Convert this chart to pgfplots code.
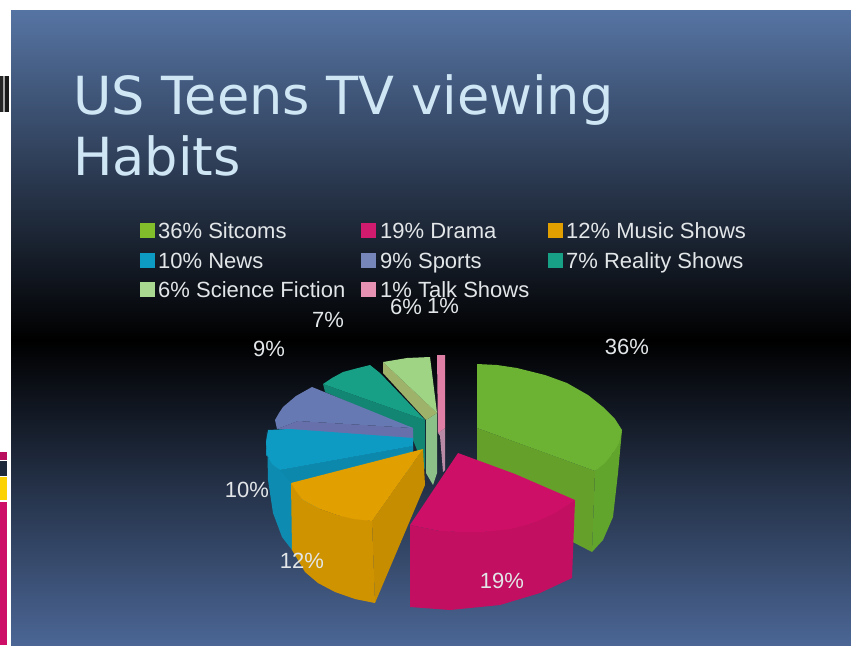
\documentclass[border=0pt]{standalone}
\usepackage{pgfplots}
\pgfplotsset{compat=1.18}
\usepackage{fontspec}
\setmainfont{Liberation Sans}
\newfontfamily\titlefont{DejaVu Sans}

\definecolor{bgtop}{HTML}{5674A3}
\definecolor{bgbot}{HTML}{4B6695}
\definecolor{titlecol}{HTML}{CFE6F5}
\definecolor{labelcol}{HTML}{E2E6E8}
\definecolor{sitcomTop}{HTML}{6CB233}
\definecolor{sitcomIn}{HTML}{65A02B}
\definecolor{sitcomOut}{HTML}{62A52D}
\definecolor{dramaTop}{HTML}{CE0F67}
\definecolor{dramaOut}{HTML}{C30F61}
\definecolor{musicTop}{HTML}{E29F00}
\definecolor{musicOut}{HTML}{D09300}
\definecolor{musicIn}{HTML}{C78D00}
\definecolor{newsTop}{HTML}{0E9BC3}
\definecolor{newsOut}{HTML}{0E8BB0}
\definecolor{sportTop}{HTML}{6779B3}
\definecolor{sportIn}{HTML}{6870AC}
\definecolor{realTop}{HTML}{17A086}
\definecolor{realIn}{HTML}{128573}
\definecolor{sciTop}{HTML}{9FD484}
\definecolor{sciIn}{HTML}{9FB26A}
\definecolor{sciOut}{HTML}{8BC088}
\definecolor{talkTop}{HTML}{E07FA6}
\definecolor{talkOut}{HTML}{B98AA6}

\pgfplotsset{
  face/.style={draw=none, fill=#1, no markers, forget plot},
  key/.style={only marks, mark=square*, mark size=6.8pt, color=#1, mark options={draw=#1, fill=#1}, forget plot},
}
\newcommand{\titletext}[3]{\node[anchor=base west, text=titlecol, inner sep=0pt, font=\titlefont\fontsize{52.5}{60}\selectfont] at (axis cs:#1,#2) {#3};}
\newcommand{\keytext}[3]{\node[anchor=base west, text=labelcol, inner sep=0pt, font=\fontsize{22}{26}\selectfont] at (axis cs:#1,#2) {#3};}
\newcommand{\share}[3]{\node[anchor=center, text=labelcol, inner sep=0pt, font=\fontsize{22}{26}\selectfont] at (axis cs:#1,#2) {#3};}

\begin{document}
\begin{tikzpicture}
\begin{axis}[
  scale only axis, width=851pt, height=645pt,
  xmin=0, xmax=851, ymin=0, ymax=645, y dir=reverse,
  hide axis, clip=true,
]
% Page and slide background
\fill[white] (axis cs:0,0) rectangle (axis cs:851,645);
\fill[top color=bgtop, bottom color=black] (axis cs:11,10) rectangle (axis cs:851,340);
\fill[top color=black, bottom color=bgbot] (axis cs:11,340) rectangle (axis cs:851,645);

% Slide-edge remnants on the left
\addplot[face=black!85] coordinates {(0,76) (3,76) (3,112) (0,112)} --cycle;
\addplot[face=black!35] coordinates {(3,76) (5,76) (5,112) (3,112)} --cycle;
\addplot[face=black!90] coordinates {(5,76) (9,76) (9,112) (5,112)} --cycle;
\addplot[face=dramaTop!90!black] coordinates {(0,452) (7,452) (7,460) (0,460)} --cycle;
\addplot[face=black!60!bgbot] coordinates {(0,461) (7,461) (7,476) (0,476)} --cycle;
\addplot[face={yellow!70!orange}] coordinates {(0,477) (7,477) (7,500) (0,500)} --cycle;
\addplot[face=dramaTop] coordinates {(0,502) (7,502) (7,645) (0,645)} --cycle;

% Talk shows, 1%
\addplot[face=talkOut] coordinates {(438,433) (445,428) (445,470) (443,472) (440,436)} --cycle;
\addplot[face=talkTop] coordinates {(437,355) (445,355) (445,428) (438,433)} --cycle;

% Reality shows, 7%
\addplot[face=realIn] coordinates {(323,384) (425,420) (425,470) (413,440) (413,430) (325,392)} --cycle;
\addplot[face=realTop] coordinates {(323,384) (332,378) (343,372) (358,368) (370,365) (380,373) (425,420)} --cycle;

% Science fiction, 6%
\addplot[face=sciOut] coordinates {(426,420) (437,413) (437,473) (433,485) (426,473)} --cycle;
\addplot[face=sciIn] coordinates {(383,362) (437,413) (426,420) (383,373)} --cycle;
\addplot[face=sciTop] coordinates {(383,362) (407,358) (430,357) (437,413)} --cycle;

% Sports, 9%
\addplot[face=sportIn] coordinates {(298,421) (413,428) (413,442) (277,429)} --cycle;
\addplot[face=sportTop] coordinates {(275,420) (279,413) (283,407) (296,396) (312,387) (413,428) (298,421) (277,429)} --cycle;

% News, 10%
\addplot[face=newsOut] coordinates {(267,432) (266,455) (280,470) (413,446) (413,470) (292,520) (292,550) (282,537) (273,513) (268,480)} --cycle;
\addplot[face=newsTop!88!black] coordinates {(280,470) (413,446) (413,450) (291,483)} --cycle;
\addplot[face=newsTop] coordinates {(268,430) (290,429) (413,438) (413,446) (280,470) (272,464) (267,455) (266,442)} --cycle;

% Music shows, 12%
\addplot[face=musicIn] coordinates {(372,521) (423,449) (425,485) (375,603)} --cycle;
\addplot[face=musicOut] coordinates {(291,483) (303,500) (320,509) (337,515) (372,521) (375,603) (355,599) (335,592) (318,583) (305,572) (292,550)} --cycle;
\addplot[face=musicTop] coordinates {(423,449) (291,483) (296,491) (303,500) (320,509) (337,515) (354,519) (372,521)} --cycle;

% Sitcoms, 36%
\addplot[face=sitcomIn] coordinates {(477,428) (595,471) (592,552) (540,525) (477,480)} --cycle;
\addplot[face=sitcomOut] coordinates {(622,430) (613,453) (595,471) (592,552) (603,540) (613,517) (618,473)} --cycle;
\addplot[face=sitcomTop] coordinates {(477,364) (497,365) (517,368) (545,375) (567,383) (588,395) (603,407) (615,419) (622,430) (619,443) (613,453) (605,463) (595,471) (477,428)} --cycle;

% Drama, 19%
\addplot[face=dramaOut] coordinates {(410,525) (440,531) (483,532) (533,523) (575,500) (572,578) (540,593) (500,605) (450,610) (410,607)} --cycle;
\addplot[face=dramaTop] coordinates {(458,453) (515,474) (575,500) (555,513) (533,523) (510,529) (483,532) (460,532) (440,531) (410,525)} --cycle;

% Legend keys
\addplot[key=sitcomTop!85!yellow] coordinates {(147,230)};
\addplot[key=dramaTop!95!white] coordinates {(368,230)};
\addplot[key=musicTop] coordinates {(555,230)};
\addplot[key=newsTop] coordinates {(147,260)};
\addplot[key=sportTop!90!white] coordinates {(368,260)};
\addplot[key=realTop] coordinates {(555,260)};
\addplot[key=sciTop!90!white] coordinates {(147,289)};
\addplot[key=talkTop!85!white] coordinates {(368,289)};

\titletext{73}{114}{US Teens TV viewing}
\titletext{73}{175}{Habits}

\keytext{158}{238}{36\% Sitcoms}
\keytext{380}{238}{19\% Drama}
\keytext{566}{238}{12\% Music Shows}
\keytext{158}{268}{10\% News}
\keytext{380}{268}{9\% Sports}
\keytext{566}{268}{7\% Reality Shows}
\keytext{158}{297}{6\% Science Fiction}
\keytext{380}{297}{1\% Talk Shows}

\share{627}{347}{36\%}
\share{502}{581}{19\%}
\share{302}{561}{12\%}
\share{247}{490}{10\%}
\share{269}{349}{9\%}
\share{328}{320}{7\%}
\share{406}{307}{6\%}
\share{443}{306}{1\%}
\end{axis}
\end{tikzpicture}
\end{document}
